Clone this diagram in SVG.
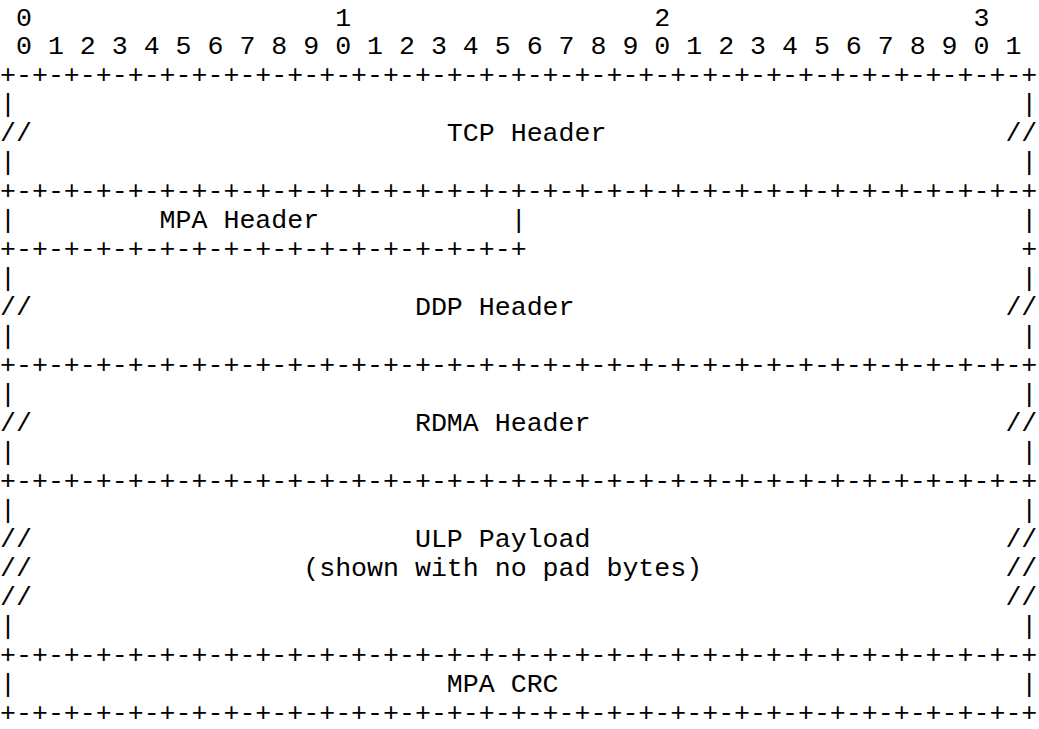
<svg xmlns="http://www.w3.org/2000/svg" width="1039" height="729" viewBox="0 0 1039 729">
<style>
text { font-family: "Liberation Mono", "Courier New", monospace; font-size: 26.6px; fill: #000; white-space: pre; }
</style>
<rect x="0" y="0" width="1039" height="729" fill="#fff"/>
<g id="ruler">
<text x="0" y="25.5" xml:space="preserve"> 0                   1                   2                   3</text>
<text x="0" y="54.48" xml:space="preserve"> 0 1 2 3 4 5 6 7 8 9 0 1 2 3 4 5 6 7 8 9 0 1 2 3 4 5 6 7 8 9 0 1</text>
</g>
<g id="connectors">
<text x="0" y="83.46" xml:space="preserve">+-+-+-+-+-+-+-+-+-+-+-+-+-+-+-+-+-+-+-+-+-+-+-+-+-+-+-+-+-+-+-+-+</text>
<text x="0" y="199.38" xml:space="preserve">+-+-+-+-+-+-+-+-+-+-+-+-+-+-+-+-+-+-+-+-+-+-+-+-+-+-+-+-+-+-+-+-+</text>
<text x="0" y="257.34" xml:space="preserve">+-+-+-+-+-+-+-+-+-+-+-+-+-+-+-+-+                               +</text>
<text x="0" y="373.26" xml:space="preserve">+-+-+-+-+-+-+-+-+-+-+-+-+-+-+-+-+-+-+-+-+-+-+-+-+-+-+-+-+-+-+-+-+</text>
<text x="0" y="489.18" xml:space="preserve">+-+-+-+-+-+-+-+-+-+-+-+-+-+-+-+-+-+-+-+-+-+-+-+-+-+-+-+-+-+-+-+-+</text>
<text x="0" y="663.06" xml:space="preserve">+-+-+-+-+-+-+-+-+-+-+-+-+-+-+-+-+-+-+-+-+-+-+-+-+-+-+-+-+-+-+-+-+</text>
<text x="0" y="720.9" xml:space="preserve">+-+-+-+-+-+-+-+-+-+-+-+-+-+-+-+-+-+-+-+-+-+-+-+-+-+-+-+-+-+-+-+-+</text>
</g>
<g id="tcp-header">
<text x="0" y="112.44" xml:space="preserve">|                                                               |</text>
<text x="0" y="141.42" xml:space="preserve">//                          TCP Header                         //</text>
<text x="0" y="170.4" xml:space="preserve">|                                                               |</text>
</g>
<g id="mpa-header">
<text x="0" y="228.36" xml:space="preserve">|         MPA Header            |                               |</text>
</g>
<g id="ddp-header">
<text x="0" y="286.32" xml:space="preserve">|                                                               |</text>
<text x="0" y="315.3" xml:space="preserve">//                        DDP Header                           //</text>
<text x="0" y="344.28" xml:space="preserve">|                                                               |</text>
</g>
<g id="rdma-header">
<text x="0" y="402.24" xml:space="preserve">|                                                               |</text>
<text x="0" y="431.22" xml:space="preserve">//                        RDMA Header                          //</text>
<text x="0" y="460.2" xml:space="preserve">|                                                               |</text>
</g>
<g id="ulp-payload">
<text x="0" y="518.16" xml:space="preserve">|                                                               |</text>
<text x="0" y="547.14" xml:space="preserve">//                        ULP Payload                          //</text>
<text x="0" y="576.12" xml:space="preserve">//                 (shown with no pad bytes)                   //</text>
<text x="0" y="605.1" xml:space="preserve">//                                                             //</text>
<text x="0" y="634.08" xml:space="preserve">|                                                               |</text>
</g>
<g id="mpa-crc">
<text x="0" y="692.04" xml:space="preserve">|                           MPA CRC                             |</text>
</g>
</svg>
